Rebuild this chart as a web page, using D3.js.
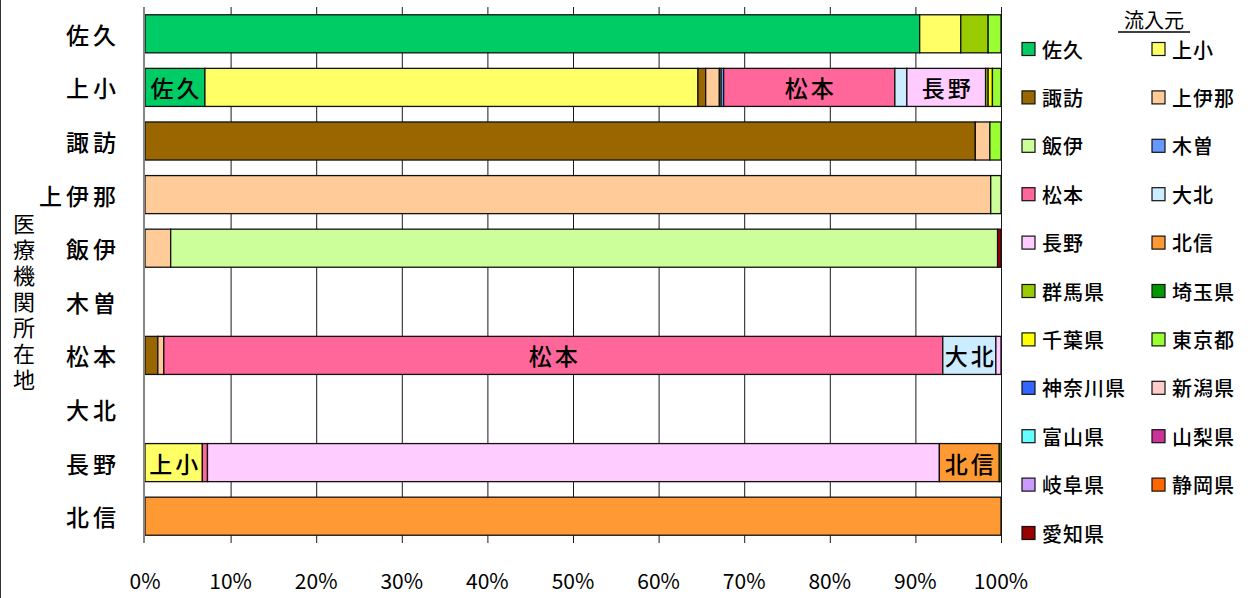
<!DOCTYPE html>
<html>
<head>
<meta charset="utf-8">
<script src="https://cdn.jsdelivr.net/npm/d3@7"></script>
<style>
  html, body { margin: 0; padding: 0; background: #fff; }
  svg { display: block; }
  text { font-family: "Noto Sans CJK JP", "Noto Sans", sans-serif; fill: #000; }
</style>
</head>
<body>
<svg id="chart" width="1252" height="598"></svg>
<script>
// Medical institution location (rows) and share of patients by origin (stacked, %)
const categories = ["佐久", "上小", "諏訪", "上伊那", "飯伊", "木曽", "松本", "大北", "長野", "北信"];

const sources = ["佐久", "上小", "諏訪", "上伊那", "飯伊", "木曽", "松本", "大北", "長野", "北信",
  "群馬県", "埼玉県", "千葉県", "東京都", "神奈川県", "新潟県", "富山県", "山梨県", "岐阜県", "静岡県", "愛知県"];

const sourceColors = ["#00CC66", "#FFFF66", "#996600", "#FFCC99", "#CCFF99", "#6699FF", "#FF6699", "#CCECFF", "#FFCCFF", "#FF9933",
  "#99CC00", "#009900", "#FFFF00", "#99FF33", "#3366FF", "#FFCCCC", "#66FFFF", "#CC3399", "#CC99FF", "#FF6600", "#990000"];

// one row per origin, values in the order of `categories`
const seriesValues = [
  [90.5, 7.0, 0, 0, 0, 0, 0, 0, 0, 0],      // 佐久
  [4.8, 57.6, 0, 0, 0, 0, 0, 0, 6.7, 0],    // 上小
  [0, 0.9, 97.0, 0, 0, 0, 1.5, 0, 0, 0],    // 諏訪
  [0, 1.6, 1.7, 98.8, 3.0, 0, 0.7, 0, 0, 0],// 上伊那
  [0, 0.2, 0, 1.2, 96.6, 0, 0, 0, 0, 0],    // 飯伊
  [0, 0.3, 0, 0, 0, 0, 0, 0, 0, 0],         // 木曽
  [0, 20.0, 0, 0, 0, 0, 91.0, 0, 0.6, 0],   // 松本
  [0, 1.4, 0, 0, 0, 0, 6.2, 0, 0, 0],       // 大北
  [0, 9.2, 0, 0, 0, 0, 0.6, 0, 85.5, 0],    // 長野
  [0, 0, 0, 0, 0, 0, 0, 0, 7.0, 100],       // 北信
  [3.2, 0.3, 0, 0, 0, 0, 0, 0, 0, 0],       // 群馬県
  [0, 0, 0, 0, 0, 0, 0, 0, 0, 0],           // 埼玉県
  [0, 0.5, 0, 0, 0, 0, 0, 0, 0, 0],         // 千葉県
  [1.5, 1.0, 1.3, 0, 0, 0, 0, 0, 0.2, 0],   // 東京都
  [0, 0, 0, 0, 0, 0, 0, 0, 0, 0],           // 神奈川県
  [0, 0, 0, 0, 0, 0, 0, 0, 0, 0],           // 新潟県
  [0, 0, 0, 0, 0, 0, 0, 0, 0, 0],           // 富山県
  [0, 0, 0, 0, 0, 0, 0, 0, 0, 0],           // 山梨県
  [0, 0, 0, 0, 0, 0, 0, 0, 0, 0],           // 岐阜県
  [0, 0, 0, 0, 0, 0, 0, 0, 0, 0],           // 静岡県
  [0, 0, 0, 0, 0.4, 0, 0, 0, 0, 0]          // 愛知県
];

const xTicks = [0, 10, 20, 30, 40, 50, 60, 70, 80, 90, 100];

// segments that carry an in-bar label: [location, origin]
const segmentLabels = [["上小", "佐久"], ["上小", "松本"], ["上小", "長野"],
  ["松本", "松本"], ["松本", "大北"], ["長野", "上小"], ["長野", "北信"]];

const axisTitle = "医療機関所在地";
const legendTitle = "流入元";

const svg = d3.select("#chart");

const x = d3.scaleLinear().domain([0, 100]).range([145, 1001]);
const y = d3.scaleBand().domain(categories).range([7, 543]).paddingInner(0.29).paddingOuter(0.145);
const color = d3.scaleOrdinal().domain(sources).range(sourceColors);

// outer frame edge on the left
svg.append("line").attr("x1", 0.5).attr("x2", 0.5).attr("y1", 0).attr("y2", 598)
  .attr("stroke", "#333").attr("stroke-width", 1);

// vertical gridlines
svg.append("g").selectAll("line").data(xTicks.slice(1)).join("line")
  .attr("x1", d => x(d) + 0.5).attr("x2", d => x(d) + 0.5)
  .attr("y1", y.range()[0]).attr("y2", y.range()[1])
  .attr("stroke", "#1a1a1a").attr("stroke-width", 1);

// stacked rows
const rows = categories.map((c, i) => {
  const row = { category: c };
  sources.forEach((s, j) => { row[s] = seriesValues[j][i]; });
  return row;
});
const stacked = d3.stack().keys(sources)(rows);

const segs = [];
stacked.forEach(layer => {
  layer.forEach(d => {
    if (d[1] - d[0] > 0) segs.push({ source: layer.key, category: d.data.category, x0: d[0], x1: d[1] });
  });
});

svg.append("g").selectAll("rect").data(segs).join("rect")
  .attr("x", d => x(d.x0))
  .attr("width", d => x(d.x1) - x(d.x0))
  .attr("y", d => y(d.category))
  .attr("height", y.bandwidth())
  .attr("fill", d => color(d.source))
  .attr("stroke", "#111")
  .attr("stroke-width", 1.3);

// in-bar labels
svg.append("g").selectAll("text").data(segmentLabels.map(([c, s]) => segs.find(d => d.category === c && d.source === s))).join("text")
  .attr("x", d => (x(d.x0) + x(d.x1)) / 2 + 1.5)
  .attr("y", d => y(d.category) + y.bandwidth() / 2)
  .attr("text-anchor", "middle")
  .attr("dominant-baseline", "central")
  .attr("font-size", 23)
  .attr("font-weight", 500)
  .attr("letter-spacing", 3)
  .text(d => d.source);

// left axis line
svg.append("line").attr("x1", 144).attr("x2", 144).attr("y1", y.range()[0]).attr("y2", y.range()[1])
  .attr("stroke", "#868686").attr("stroke-width", 2);

// category labels
svg.append("g").selectAll("text").data(categories).join("text")
  .attr("x", 120)
  .attr("y", d => y(d) + y.bandwidth() / 2)
  .attr("text-anchor", "end")
  .attr("dominant-baseline", "central")
  .attr("font-size", 23)
  .attr("font-weight", 500)
  .attr("letter-spacing", 4)
  .text(d => d);

// x tick labels
svg.append("g").selectAll("text").data(xTicks).join("text")
  .attr("x", d => x(d))
  .attr("y", 580)
  .attr("text-anchor", "middle")
  .attr("dominant-baseline", "central")
  .attr("font-size", 21)
  .text(d => d + "%");

// vertical axis title, stacked top to bottom
svg.append("text")
  .attr("x", 24)
  .attr("y", 213)
  .attr("writing-mode", "vertical-rl")
  .attr("text-orientation", "upright")
  .attr("font-size", 22)
  .attr("letter-spacing", 4)
  .text(axisTitle);

// legend
const legend = svg.append("g");
legend.append("text").attr("x", 1154).attr("y", 19)
  .attr("text-anchor", "middle").attr("dominant-baseline", "central")
  .attr("font-size", 20).text(legendTitle);
legend.append("line").attr("x1", 1118).attr("x2", 1190).attr("y1", 32).attr("y2", 32)
  .attr("stroke", "#000").attr("stroke-width", 1.5);

const item = legend.selectAll("g.item").data(sources).join("g")
  .attr("class", "item")
  .attr("transform", (d, i) => `translate(${i % 2 === 0 ? 1022 : 1152},${49 + Math.floor(i / 2) * 48.4})`);
item.append("rect").attr("x", 0).attr("y", -6.5).attr("width", 13).attr("height", 13)
  .attr("fill", d => color(d)).attr("stroke", "#111").attr("stroke-width", 1.2);
item.append("text").attr("x", 20).attr("y", 0)
  .attr("dominant-baseline", "central")
  .attr("font-size", 20).attr("font-weight", 500).attr("letter-spacing", 1)
  .text(d => d);
</script>
</body>
</html>
